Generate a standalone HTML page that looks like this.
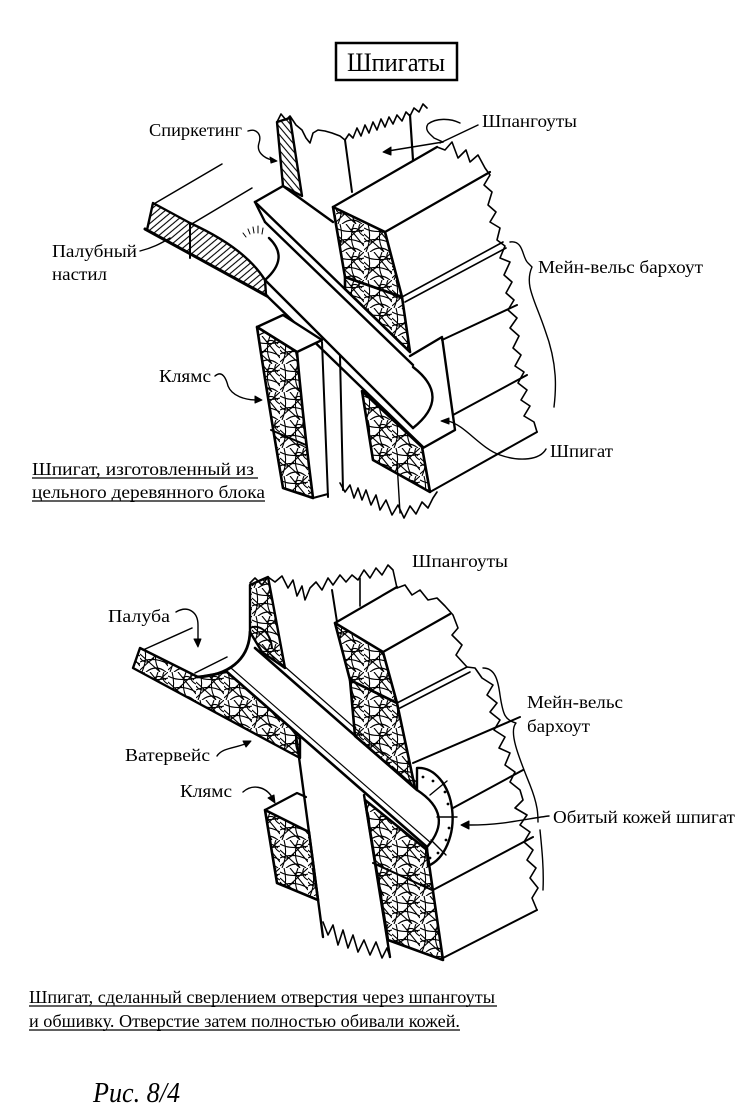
<!DOCTYPE html>
<html><head><meta charset="utf-8">
<style>html,body{margin:0;padding:0;background:#fff}svg{display:block}</style>
</head><body>
<svg width="751" height="1107" viewBox="0 0 751 1107" xmlns="http://www.w3.org/2000/svg" font-family="'Liberation Serif','Noto Serif CJK SC',serif">
<defs>
<pattern id="tg" patternUnits="userSpaceOnUse" width="28" height="28">
<path d="M0,4 Q10,10 28,6 M0,18 Q14,12 28,20 M4,0 Q8,14 2,28 M18,0 Q12,16 20,28 M0,26 L28,0 M0,10 L20,28 M10,0 L28,22 M6,28 Q16,20 26,28 M24,0 Q20,8 28,12 M0,14 Q6,22 14,14 M14,6 Q20,2 26,8" stroke="#000" stroke-width="1.1" fill="none"/>
</pattern>
<pattern id="gr" patternUnits="userSpaceOnUse" width="5" height="5" patternTransform="rotate(-40)">
<path d="M0,2.5 L5,2.5" stroke="#000" stroke-width="1.1"/>
</pattern>
<pattern id="gv" patternUnits="userSpaceOnUse" width="5" height="5" patternTransform="rotate(50)">
<path d="M0,2.5 L5,2.5" stroke="#000" stroke-width="1.1"/>
</pattern>
</defs>
<rect width="751" height="1107" fill="#fff"/>

<!-- Title -->
<rect x="336" y="43" width="121" height="37" fill="none" stroke="#000" stroke-width="2.5"/>
<text x="347" y="71" font-size="26" textLength="98" lengthAdjust="spacingAndGlyphs">Шпигаты</text>

<!-- ============ TOP DIAGRAM ============ -->
<g fill="none" stroke="#000" stroke-linejoin="round" stroke-linecap="round">
<!-- deck -->
<path d="M152,205 L222,164 M190,225 L252,188" stroke-width="1.5"/>
<path d="M153,203 L190,223 Q245,248 265,280 L266,295 L147,230 Z" fill="url(#gr)" stroke-width="2.4"/>
<path d="M190,223 L190,258" stroke-width="2"/>
<path d="M145,229 L267,296" stroke-width="3"/>
<path d="M243,233 l3,4 M248,229 l2,5 M253,227 l1,6 M258,226 l0,7 M263,228 l-1,6" stroke-width="1"/>
<!-- bar -->
<path d="M255,202 L283,186 L333,222" stroke-width="2.4"/>
<path d="M255,202 L265,222" stroke-width="2.4"/>
<path d="M255,202 L410,352" stroke-width="2.4"/>
<path d="M265,222 L413,365" stroke-width="2.4"/>
<path d="M269,238 Q290,258 265,280" stroke-width="2.4"/>
<path d="M265,280 L413,428" stroke-width="2.4"/>
<path d="M267,296 L423,447" stroke-width="2.4"/>
<path d="M413,367 Q452,397 413,428" stroke-width="2.4"/>
<path d="M410,356 L442,337 L455,430 L423,448" stroke-width="2.4"/>
<!-- spirketing & frame -->
<polygon points="277,122 290,118 302,196 283,186" fill="url(#gv)" stroke-width="2.4"/>
<path d="M345,140 L352,192" stroke-width="2"/>
<path d="M410,115 L413,160" stroke-width="2.2"/>
<polyline points="277,122 281,114 286,120 290,116 296,125 302,130 306,138 310,143 313,133 318,130 325,131 332,133 340,136 345,140 349,134 353,138 357,128 361,136 365,125 369,133 373,122 377,130 381,119 385,127 389,117 393,124 397,115 402,121 406,112 410,116 414,108 419,112 423,104 427,108" stroke-width="1.6"/>
<!-- main wale block -->
<path d="M333,207 L437,147" stroke-width="2.3"/>
<path d="M385,232 L490,172" stroke-width="2.2"/>
<polygon points="333,207 385,232 402,297 345,277" fill="url(#tg)" stroke-width="2.6"/>
<polygon points="345,277 402,297 410,352 345,289" fill="url(#tg)" stroke-width="2.6"/>
<path d="M402,297 L503,242 M405,302 L506,248" stroke-width="1.6"/>
<path d="M442,340 L517,305" stroke-width="2"/>
<path d="M453,415 L527,375" stroke-width="2"/>
<path d="M430,492 L537,432" stroke-width="2"/>
<!-- klyams -->
<polygon points="257,327 283,315 322,340 297,352" fill="#fff" stroke-width="2.4"/>
<path d="M257,327 Q268,400 283,488 L313,498 Q303,420 297,352 Z" fill="url(#tg)" stroke-width="2.6"/>
<path d="M271,430 L306,445" stroke-width="2"/>
<path d="M322,342 L328,497 M340,356 L343,490" stroke-width="2"/>
<path d="M313,498 L328,494" stroke-width="2"/>
<!-- lower right block -->
<polygon points="362,391 422,447 430,492 373,460" fill="url(#tg)" stroke-width="2.6"/>
<path d="M397,462 L400,513" stroke-width="1.4"/>
<polyline points="340,483 345,492 350,485 354,498 358,488 362,500 366,490 371,505 376,495 380,510 386,500 392,515 398,505 404,518 410,506 416,514 422,502 428,508 433,498 437,492" stroke-width="1.6"/>
<!-- right jagged edge -->
<polyline points="437,147 445,150 452,142 458,158 466,150 470,162 478,155 485,168 490,175 484,185 492,192 488,205 496,212 490,222 500,228 497,240 505,246 500,258 510,262 504,275 512,282 506,293 514,300 508,310 517,318 510,328 519,336 513,348 521,355 515,366 524,372 518,383 527,390 521,400 530,406 524,416 534,422 537,432" stroke-width="1.6"/>
<!-- leaders -->
<path d="M248,131 C256,128 262,134 259,143 C256,152 264,158 272,160" stroke-width="1.4"/>
<path d="M277,161 l-7,-4 l1,6 z" fill="#000" stroke-width="1"/>
<path d="M478,125 L440,143" stroke-width="1.4"/>
<path d="M460,123 C450,118 436,118 428,124 C424,130 430,134 434,138 L443,142" stroke-width="1.4"/>
<path d="M443,142 L388,151" stroke-width="1.6"/>
<path d="M383,152 l8,-5 l0,8 z" fill="#000" stroke-width="1"/>
<path d="M140,251 C152,248 160,244 170,238" stroke-width="1.4"/>
<path d="M215,376 C222,370 226,378 228,386 C232,396 245,400 257,400" stroke-width="1.4"/>
<path d="M262,400 l-7,-4 l0,7 z" fill="#000" stroke-width="1"/>
<path d="M510,242 C524,240 522,258 528,263 L532,267 C524,285 535,300 545,330 C558,365 556,390 554,407" stroke-width="1.4"/>
<path d="M546,449 C540,460 520,462 500,455 C480,448 465,425 448,421" stroke-width="1.4"/>
<path d="M441,421 l8,-3 l0,6 z" fill="#000" stroke-width="1"/>
</g>

<!-- top labels -->
<g font-size="18" fill="#000">
<text x="149" y="136" textLength="93" lengthAdjust="spacingAndGlyphs">Спиркетинг</text>
<text x="482" y="127" textLength="95" lengthAdjust="spacingAndGlyphs">Шпангоуты</text>
<text x="52" y="257" textLength="85" lengthAdjust="spacingAndGlyphs">Палубный</text>
<text x="52" y="280" textLength="55" lengthAdjust="spacingAndGlyphs">настил</text>
<text x="159" y="382" textLength="52" lengthAdjust="spacingAndGlyphs">Клямс</text>
<text x="538" y="273" textLength="165" lengthAdjust="spacingAndGlyphs">Мейн-вельс бархоут</text>
<text x="550" y="457" textLength="63" lengthAdjust="spacingAndGlyphs">Шпигат</text>
<text x="32" y="475" textLength="222" lengthAdjust="spacingAndGlyphs">Шпигат, изготовленный из</text>
<text x="32" y="498" textLength="233" lengthAdjust="spacingAndGlyphs">цельного деревянного блока</text>
</g>
<path d="M32,478 L258,478 M32,501 L265,501" stroke="#000" stroke-width="1.2"/>

<!-- ============ BOTTOM DIAGRAM ============ -->
<g fill="none" stroke="#000" stroke-linejoin="round" stroke-linecap="round">
<polyline points="250,583 255,578 262,585 268,577 275,582 282,576 288,588 293,580 297,596 302,586 305,600 310,588 316,582 322,590 328,578 333,585 340,575 346,582 352,575 358,580 364,570 370,578 376,568 382,575 388,565 393,570 397,588" stroke-width="1.6"/>
<polygon points="250,585 268,577 285,668 262,652 250,632" fill="url(#tg)" stroke-width="2.4"/>
<path d="M250,628 C258,624 270,630 272,648" stroke-width="2"/>
<path d="M332,590 L337,622" stroke-width="2"/>
<path d="M360,578 L360,606" stroke-width="1.6"/>
<!-- deck -->
<path d="M143,650 L192,628 M195,673 L227,657" stroke-width="1.5"/>
<polygon points="140,648 198,677 227,672 300,736 300,758 133,668" fill="url(#tg)" stroke-width="2.4"/>
<path d="M250,632 C249,660 228,676 196,677" stroke-width="2.8"/>
<!-- pipe -->
<path d="M255,648 L417,790" stroke-width="2.6"/>
<path d="M259,644 L421,786" stroke-width="1.2"/>
<path d="M227,672 L427,847" stroke-width="2.6"/>
<path d="M231,668 L431,843" stroke-width="1.2"/>
<!-- right block -->
<path d="M335,623 L397,587" stroke-width="2.2"/>
<path d="M383,652 L450,614" stroke-width="2.2"/>
<polygon points="335,623 383,652 397,703 350,680" fill="url(#tg)" stroke-width="2.6"/>
<polygon points="350,680 397,703 415,788 355,736" fill="url(#tg)" stroke-width="2.6"/>
<path d="M397,703 L467,667 M400,708 L470,672" stroke-width="1.6"/>
<path d="M413,763 L520,717" stroke-width="2"/>
<path d="M453,808 L523,770" stroke-width="2"/>
<path d="M433,890 L533,837" stroke-width="2"/>
<path d="M443,958 L537,910" stroke-width="2"/>
<!-- leather ring -->
<path d="M417,768 A34,50 0 0,1 428,866 L427,847 Q455,815 417,790 Z" fill="#fff" stroke-width="2.4"/>
<path d="M430,795 L447,781 M437,817 L457,817 M431,840 L446,855" stroke-width="1.4"/>
<g fill="#000" stroke="none">
<circle cx="423" cy="777" r="1.4"/><circle cx="433" cy="781" r="1.4"/><circle cx="445" cy="792" r="1.4"/><circle cx="448" cy="804" r="1.4"/><circle cx="449" cy="828" r="1.4"/><circle cx="446" cy="840" r="1.4"/><circle cx="438" cy="853" r="1.4"/><circle cx="430" cy="858" r="1.4"/>
</g>
<!-- klyams -->
<path d="M265,810 L297,793 L306,797" stroke-width="2.2"/>
<polygon points="265,810 309,832 318,900 277,883" fill="url(#tg)" stroke-width="2.6"/>
<!-- frame lower -->
<path d="M296,735 L323,937" stroke-width="2.4"/>
<path d="M364,795 L390,957" stroke-width="2.4"/>
<!-- lower right block -->
<polygon points="365,800 427,850 443,960 388,940" fill="url(#tg)" stroke-width="2.6"/>
<path d="M373,863 L432,890" stroke-width="2"/>
<polyline points="323,922 328,935 333,925 338,945 343,930 348,948 353,935 358,952 364,940 370,955 376,942 382,958 387,948 390,957" stroke-width="1.6"/>
<!-- right jagged -->
<polyline points="397,588 405,585 412,595 420,590 428,600 437,598 445,606 453,615 458,628 452,635 462,645 456,655 467,667 475,668 482,678 493,685 487,695 497,703 490,712 500,720 494,730 505,737 499,748 510,753 505,765 515,772 510,782 520,790 523,800 515,808 527,815 520,825 530,832 524,842 533,850 527,860 536,868 530,878 538,888 532,898 537,910" stroke-width="1.6"/>
<!-- leaders -->
<path d="M176,612 C188,605 198,612 198,625 L198,640" stroke-width="1.4"/>
<path d="M198,647 l-4,-8 l7,0 z" fill="#000" stroke-width="1"/>
<path d="M217,756 C222,748 235,748 245,744" stroke-width="1.4"/>
<path d="M251,741 l-8,0 l3,6 z" fill="#000" stroke-width="1"/>
<path d="M243,792 C252,784 265,786 272,797" stroke-width="1.4"/>
<path d="M275,803 l-7,-5 l6,-3 z" fill="#000" stroke-width="1"/>
<path d="M483,668 C495,668 498,680 500,695 C503,715 505,720 516,723 C508,732 520,760 530,785 C538,805 538,815 538,822" stroke-width="1.4"/>
<path d="M540,830 C542,850 544,870 543,890" stroke-width="1.4"/>
<path d="M549,816 C530,818 505,825 470,825" stroke-width="1.4"/>
<path d="M461,825 l8,-4 l0,8 z" fill="#000" stroke-width="1"/>
</g>

<!-- bottom labels -->
<g font-size="18" fill="#000">
<text x="412" y="567" textLength="96" lengthAdjust="spacingAndGlyphs">Шпангоуты</text>
<text x="108" y="622" textLength="62" lengthAdjust="spacingAndGlyphs">Палуба</text>
<text x="125" y="761" textLength="85" lengthAdjust="spacingAndGlyphs">Ватервейс</text>
<text x="180" y="797" textLength="52" lengthAdjust="spacingAndGlyphs">Клямс</text>
<text x="527" y="708" textLength="96" lengthAdjust="spacingAndGlyphs">Мейн-вельс</text>
<text x="527" y="732" textLength="63" lengthAdjust="spacingAndGlyphs">бархоут</text>
<text x="553" y="823" textLength="182" lengthAdjust="spacingAndGlyphs">Обитый кожей шпигат</text>
<text x="29" y="1003" textLength="466" lengthAdjust="spacingAndGlyphs">Шпигат, сделанный сверлением отверстия через шпангоуты</text>
<text x="29" y="1027" textLength="431" lengthAdjust="spacingAndGlyphs">и обшивку. Отверстие затем полностью обивали кожей.</text>
</g>
<path d="M29,1006 L497,1006 M29,1030 L460,1030" stroke="#000" stroke-width="1.2"/>

<text x="93" y="1102" font-size="28" font-style="italic" textLength="87" lengthAdjust="spacingAndGlyphs">Рис. 8/4</text>
</svg>
</body></html>
